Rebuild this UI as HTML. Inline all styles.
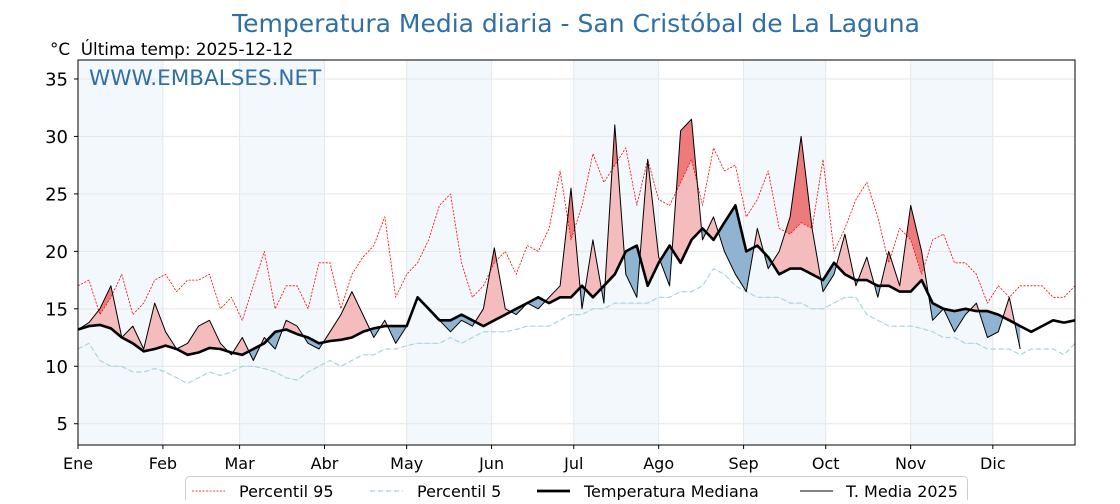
<!DOCTYPE html>
<html><head><meta charset="utf-8"><style>
body{margin:0;background:#fff;font-family:"DejaVu Sans","Liberation Sans",sans-serif}
svg text{font-family:"DejaVu Sans","Liberation Sans",sans-serif}
</style></head><body>
<svg id="c" width="1120" height="500" xmlns="http://www.w3.org/2000/svg">
<text x="576" y="32" text-anchor="middle" font-size="25" fill="#2f6fa5">Temperatura Media diaria - San Cristóbal de La Laguna</text>
<text x="50" y="55" font-size="16.8" fill="#000" xml:space="preserve">°C  Última temp: 2025-12-12</text>
<g id="plot"></g>
<text x="89" y="85" font-size="21.5" fill="#2f6fa5">WWW.EMBALSES.NET</text>
<g>
<rect x="185.5" y="476.5" width="782" height="30" rx="4" fill="#fff" stroke="#ccc"/>
<line x1="192" y1="491" x2="225" y2="491" stroke="red" stroke-width="0.8" stroke-dasharray="2,1.5"/>
<text x="239" y="497" font-size="16">Percentil 95</text>
<line x1="370" y1="491" x2="403" y2="491" stroke="#a8d4e0" stroke-width="1.2" stroke-dasharray="5,3"/>
<text x="417" y="497" font-size="16">Percentil 5</text>
<line x1="537" y1="491" x2="570" y2="491" stroke="#000" stroke-width="2.8"/>
<text x="584" y="497" font-size="16">Temperatura Mediana</text>
<line x1="800" y1="491" x2="833" y2="491" stroke="#000" stroke-width="1"/>
<text x="846" y="497" font-size="16">T. Media 2025</text>
</g>
</svg>
<script>
const monthLabels=["Ene","Feb","Mar","Abr","May","Jun","Jul","Ago","Sep","Oct","Nov","Dic"];
const monthStarts=[0,31,59,90,120,151,181,212,243,273,304,334];
const yTicks=[5,10,15,20,25,30,35];
const step=4;
const median=[13.2,13.5,13.6,13.3,12.5,12,11.3,11.5,11.8,11.5,11,11.2,11.6,11.5,11.2,11,11.5,12,13,13.2,12.8,12.5,12,12.2,12.3,12.5,13,13.3,13.5,13.5,13.5,16,15,14,14,14.5,14,13.5,14,14.5,15,15.5,16,15.5,16,16,17,16,17,18,20,20.5,17,19,20.5,19,21,22,21,22.5,24,20,20.5,19.5,18,18.5,18.5,18,17.5,19,18,17.5,17.5,17,17,16.5,16.5,17.5,15.5,15,14.8,15,14.8,14.8,14.5,14,13.5,13,13.5,14,13.8,14];
const t2025=[13.2,13.8,15,17,12.5,13.5,11.5,15.5,13,11.5,12,13.5,14,12,11,12.5,10.5,12.5,11.5,14,13.5,12,11.5,13,14.5,16.5,14.5,12.5,14,12,13.5,16,15,14,13,14,13.5,15,20.3,15,14.5,15.5,15,16,17,25.5,15,21,15.5,31,18,16,28,19.5,17,30.5,31.5,21,23,20,18,16.5,22,18.5,20,23,30,22,16.5,18,21.5,17,19.5,16,20,17,24,20,14,15,13,14.5,15.5,12.5,13,16,11.5];
const p95=[17,17.5,14.5,16,18,14.5,15.5,17.5,18,16.5,17.5,17.5,18,15,16,14,17,20,15,17,17,15,19,19,15,18,19.5,20.5,23,16,18,19,21,24,25,19,16,17,19,20,18,20.5,20,22,27,21,24,28.5,26,27.5,29,24,28,24.5,24,26,28,24,29,27,27.5,23,24.5,27,22,21.5,22.5,22,28,20,22,24.5,26,23,19,22,21,18,21,21.5,19,19,18,15.5,17,16,17,17,17,16,16,17];
const p5=[11.5,12,10.5,10,10,9.5,9.5,9.8,9.5,9,8.5,9,9.5,9.2,9.5,10,10,9.8,9.5,9,8.8,9.5,10,10.5,10,10.5,11,11,11.5,11.5,11.8,12,12,12,12.5,12,12.5,13,13,13,13.2,13.5,13.5,13.5,14,14.5,14.5,15,15,15.5,15.5,15.5,15.5,16,16,16.5,16.5,17,18.5,18,17,16.5,16,16,16,15.5,15.5,15,15,15.5,16,16,14.5,14,13.5,13.5,13.5,13.3,13,12.5,12.5,12,12,11.5,11.5,11.5,11,11.5,11.5,11.5,11,12];

const X0=78,X1=1075,Y0=60,Y1=445,YMIN=3.15,YMAX=36.65;
const xs=d=>X0+(X1-X0)*d/364;
const ys=v=>Y1-(Y1-Y0)*(v-YMIN)/(YMAX-YMIN);
const NS="http://www.w3.org/2000/svg";
const g=document.getElementById('plot');
function mk(tag,attrs,parent){const e=document.createElementNS(NS,tag);for(const k in attrs)e.setAttribute(k,attrs[k]);(parent||g).appendChild(e);return e;}
monthStarts.forEach((d,i)=>{if(i%2===0){const e=i+1<12?monthStarts[i+1]:365;
const r=mk('rect',{x:xs(d),y:Y0,width:xs(e)-xs(d),height:Y1-Y0,fill:'#f3f8fc'});

}});
yTicks.forEach(v=>{const l=mk('line',{x1:X0,x2:X1,y1:ys(v),y2:ys(v),stroke:'#e6e6e6','stroke-width':1});


const t=mk('text',{x:68,y:ys(v)+6.5,'text-anchor':'end','font-size':18});t.textContent=v;


mk('line',{x1:X0-4,x2:X0,y1:ys(v),y2:ys(v),stroke:'#000'});});
monthStarts.forEach((d,i)=>{const l=mk('line',{x1:xs(d),x2:xs(d),y1:Y0,y2:Y1,stroke:'#e3e8ee','stroke-width':1});


mk('line',{x1:xs(d),x2:xs(d),y1:Y1,y2:Y1+4,stroke:'#000'});
const t=mk('text',{x:xs(d),y:469,'text-anchor':'middle','font-size':16});t.textContent=monthLabels[i];

});
const pts=arr=>arr.map((v,i)=>[xs(i*step),ys(v)]);
const str=p=>p.map(q=>q[0].toFixed(1)+','+q[1].toFixed(1)).join(' ');
const defs=mk('defs',{});
function clip(id,arr,above){const p=pts(arr);const c=mk('clipPath',{id:id},defs);
const edge=above?Y0-50:Y1+50;
mk('polygon',{points:str([[p[0][0],edge]].concat(p,[[p[p.length-1][0],edge]]))},c);}
clip('aboveMed',median,true);clip('belowMed',median,false);
clip('aboveP95',p95,true);clip('belowP5',p5,false);
const n=t2025.length;
function band(other,fill,cl,name){const a=pts(t2025),b=pts(other.slice(0,n)).reverse();
const e=mk('polygon',{points:str(a.concat(b)),fill:fill,'clip-path':'url(#'+cl+')'});

}
band(median,'#f4bcbc','aboveMed','above-median-area');
band(median,'#8fb3d0','belowMed','below-median-area');
band(p95,'#ee7b7b','aboveP95','above-p95-area');
band(p5,'#2a6aa3','belowP5','below-p5-area');
function line(arr,attrs,name){const e=mk('polyline',Object.assign({points:str(pts(arr)),fill:'none','stroke-linejoin':'round'},attrs));

}
line(p95,{stroke:'red','stroke-width':0.8,'stroke-dasharray':'2,1.5'},'p95-line');
line(p5,{stroke:'#a8d4e0','stroke-width':1.2,'stroke-dasharray':'5,3'},'p5-line');
line(median,{stroke:'#000','stroke-width':2.6},'median-line');
line(t2025,{stroke:'#000','stroke-width':1},'t2025-line');
const fr=mk('rect',{x:X0,y:Y0,width:X1-X0,height:Y1-Y0,fill:'none',stroke:'#000','stroke-width':1});


</script>
</body></html>
